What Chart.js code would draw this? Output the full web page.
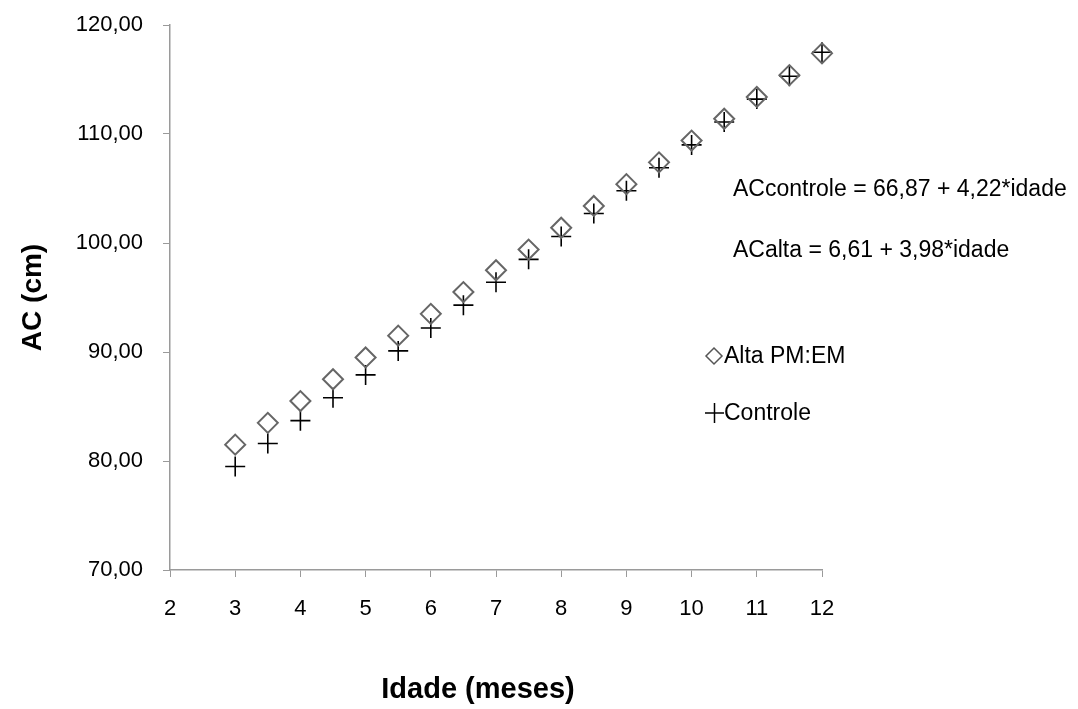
<!DOCTYPE html>
<html>
<head>
<meta charset="utf-8">
<script src="https://cdn.jsdelivr.net/npm/chart.js@4/dist/chart.umd.min.js"></script>
<style>
  html, body { margin: 0; padding: 0; background: #fff; }
  #wrap { width: 1078px; height: 709px; }
</style>
</head>
<body>
<div id="wrap"><canvas id="grafico" width="1078" height="709"></canvas></div>
<script>
// Dados (idade em meses, AC em cm)
const idade = [3, 3.5, 4, 4.5, 5, 5.5, 6, 6.5, 7, 7.5, 8, 8.5, 9, 9.5, 10, 10.5, 11, 11.5, 12];
const altaPMEM = [81.5, 83.5, 85.5, 87.5, 89.5, 91.5, 93.5, 95.5, 97.5, 99.4, 101.4, 103.4, 105.4, 107.4, 109.4, 111.4, 113.4, 115.4, 117.4];
const controle = [79.5, 81.6, 83.7, 85.8, 87.9, 90.1, 92.2, 94.3, 96.4, 98.5, 100.6, 102.7, 104.8, 106.9, 109.0, 111.1, 113.2, 115.3, 117.5];
const equacoes = ['ACcontrole = 66,87 + 4,22*idade', 'ACalta = 6,61 + 3,98*idade'];
const tituloX = 'Idade (meses)';

const fonte = '"Liberation Sans", Arial, sans-serif';
const corEixo = '#9a9a9a';

function pares(xs, ys) {
    return xs.map((x, i) => ({ x: x, y: ys[i] }));
}

// Legenda, equações e título do eixo x desenhados à mão
const textoExtra = {
    id: 'textoExtra',
    afterDraw(chart) {
        const ctx = chart.ctx;
        ctx.save();
        ctx.fillStyle = '#000';
        ctx.textBaseline = 'middle';
        ctx.textAlign = 'left';
        ctx.font = '23px ' + fonte;
        ctx.fillText(equacoes[0], 733, 190);
        ctx.fillText(equacoes[1], 733, 251);

        ctx.font = '23px ' + fonte;
        const ds = chart.data.datasets;
        // losango
        ctx.strokeStyle = '#555';
        ctx.lineWidth = 1.5;
        ctx.beginPath();
        ctx.moveTo(714, 348); ctx.lineTo(722, 356); ctx.lineTo(714, 364); ctx.lineTo(706, 356);
        ctx.closePath();
        ctx.stroke();
        ctx.fillText(ds[0].label, 724, 357);
        // cruz
        ctx.strokeStyle = '#000';
        ctx.beginPath();
        ctx.moveTo(705, 413); ctx.lineTo(724, 413);
        ctx.moveTo(714.5, 403); ctx.lineTo(714.5, 423);
        ctx.stroke();
        ctx.fillText(ds[1].label, 724, 414);

        ctx.font = 'bold 29px ' + fonte;
        ctx.textAlign = 'center';
        ctx.fillText(tituloX, 478, 690);
        ctx.restore();
    }
};

new Chart(document.getElementById('grafico').getContext('2d'), {
    type: 'scatter',
    data: {
        datasets: [{
            label: 'Alta PM:EM',
            data: pares(idade, altaPMEM),
            pointStyle: 'rectRot',
            pointRadius: 10,
            pointHoverRadius: 10,
            pointBorderWidth: 2,
            borderColor: '#666',
            backgroundColor: 'rgba(0,0,0,0)',
            clip: false
        }, {
            label: 'Controle',
            data: pares(idade, controle),
            pointStyle: 'cross',
            pointRadius: 10,
            pointHoverRadius: 10,
            pointBorderWidth: 1.6,
            borderColor: '#000',
            backgroundColor: 'rgba(0,0,0,0)',
            clip: false
        }]
    },
    options: {
        responsive: false,
        animation: false,
        layout: { padding: { top: 25, right: 256, bottom: 0, left: 0 } },
        plugins: {
            legend: { display: false },
            tooltip: { enabled: false }
        },
        scales: {
            x: {
                type: 'linear',
                min: 2,
                max: 12,
                ticks: { stepSize: 1, color: '#000', padding: 19, font: { family: fonte, size: 22 } },
                grid: { drawOnChartArea: false, tickLength: 7, color: corEixo },
                border: { color: corEixo, width: 1.5 },
                afterFit(s) { s.height = 139; }
            },
            y: {
                min: 70,
                max: 120,
                ticks: {
                    stepSize: 10,
                    color: '#000',
                    padding: 20,
                    font: { family: fonte, size: 22 },
                    callback: v => v.toFixed(2).replace('.', ',')
                },
                grid: { drawOnChartArea: false, tickLength: 7, color: corEixo },
                border: { color: corEixo, width: 1.5 },
                title: {
                    display: true,
                    text: 'AC (cm)',
                    color: '#000',
                    font: { family: fonte, size: 28, weight: 'bold' },
                    padding: { top: 16, bottom: 0 }
                },
                afterFit(s) { s.width = 170; s.paddingTop = 0; s.paddingBottom = 0; }
            }
        }
    },
    plugins: [textoExtra]
});
</script>
</body>
</html>
